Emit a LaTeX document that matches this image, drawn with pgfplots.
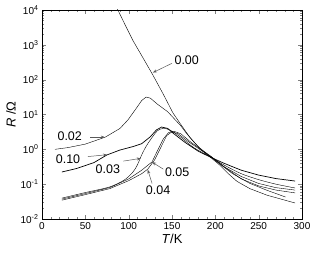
\documentclass[border=0pt]{standalone}
\usepackage{pgfplots}
\pgfplotsset{compat=1.18}
\usepackage{fontspec}
\setmainfont{Liberation Sans}
\usetikzlibrary{arrows.meta}
\begin{document}
\begin{tikzpicture}
\path[use as bounding box] (-42pt,-37pt) rectangle (273pt,219pt);
\begin{axis}[
  at={(0,0)}, anchor=south west,
  scale only axis, width=260pt, height=209pt,
  xmin=0, xmax=300, ymode=log, ymin=1e-2, ymax=1e4,
  xtick={0,50,100,150,200,250,300}, minor x tick num=4,
  ytick={1e-2,1e-1,1,1e1,1e2,1e3,1e4},
  yticklabels={10\textsuperscript{-2},10\textsuperscript{-1},10\textsuperscript{0},10\textsuperscript{1},10\textsuperscript{2},10\textsuperscript{3},10\textsuperscript{4}},
  tick align=inside, major tick length=4pt, minor tick length=2pt,
  /pgf/number format/assume math mode=true,
  tick label style={font=\fontsize{10}{12}\selectfont},
  xlabel={\textit{T}/K}, ylabel={\textit{R} /Ω},
  label style={font=\fontsize{13}{15}\selectfont},
  xlabel style={yshift=2pt},
  ylabel style={yshift=-2pt},
  axis line style={line width=0.8pt},
  cycle list={{black, solid, line width=0.7pt, smooth, mark=none}},
  clip=true,
]
% x = 0.00
\addplot coordinates {(86,12023) (95,4169) (105,1318) (119,331.1) (128,134.9) (140,38.02) (151,11.22) (160,5.248) (171,2.138) (183,1.0) (193,0.631) (205,0.3548) (215,0.1995) (225,0.1202) (240,0.0741) (260,0.0479) (292,0.0288)};
% x = 0.02
\addplot coordinates {(15,1.0) (30,1.122) (50,1.413) (73,2.239) (90,3.981) (99,6.918) (108,14.13) (115,25.12) (120,31.62) (125,29.51) (133,19.95) (145,12.02) (151,8.318) (160,4.786) (167,2.818) (180,1.202) (193,0.661) (205,0.380) (220,0.1995) (240,0.1047) (260,0.0661) (281,0.0427)};
% x = 0.10
\addplot coordinates {(23,0.2239) (40,0.2818) (60,0.4169) (75,0.6918) (90,0.955) (105,1.2) (115,1.45) (125,2.3) (132,3.6) (138,4.365) (145,3.981) (152,2.818) (165,1.585) (180,0.891) (194,0.6026) (210,0.3981) (230,0.2512) (250,0.1820) (270,0.1445) (292,0.1230)};
% x = 0.03
\addplot coordinates {(23,0.0398) (50,0.0575) (78,0.0832) (95,0.1318) (105,0.2239) (110,0.3548) (115,0.6918) (120,1.202) (125,1.862) (133,3.388) (140,3.981) (148,3.548) (160,2.239) (175,1.122) (193,0.631) (210,0.3548) (230,0.1995) (250,0.1349) (270,0.1) (292,0.0776)};
% x = 0.04
\addplot coordinates {(23,0.0347) (50,0.0501) (78,0.0741) (100,0.1259) (115,0.1995) (122,0.2692) (130,0.5012) (138,1.259) (144,2.512) (150,3.162) (157,2.818) (170,1.585) (185,0.891) (195,0.6026) (210,0.3162) (230,0.166) (250,0.1047) (270,0.0794) (292,0.0676)};
% x = 0.05
\addplot coordinates {(23,0.0372) (50,0.0537) (78,0.0794) (100,0.1413) (115,0.2512) (127,0.4365) (133,0.8913) (140,1.995) (146,3.02) (152,3.311) (160,2.818) (172,1.585) (185,0.9333) (195,0.631) (210,0.3162) (230,0.1413) (250,0.0891) (270,0.0676) (292,0.0562)};
% labels
\begin{scope}[every node/.style={font=\fontsize{12.5}{14}\selectfont, inner sep=0pt}]
\node at (axis cs:167,363) {0.00};
\node at (axis cs:32,2.4) {0.02};
\node at (axis cs:30,0.52) {0.10};
\node at (axis cs:76,0.27) {0.03};
\node at (axis cs:156,0.22) {0.05};
\node at (axis cs:134,0.068) {0.04};
\end{scope}
\begin{scope}[gray!70!black, line width=0.5pt, -{Stealth[length=4pt,width=3pt]}]
\draw (axis cs:150,295) -- (axis cs:128,160);
\draw (axis cs:55.5,2.24) -- (axis cs:72.5,2.24);
\draw (axis cs:53,0.62) -- (axis cs:75,0.70);
\draw (axis cs:94,0.46) -- (axis cs:114,0.55);
\draw (axis cs:140,0.27) -- (axis cs:127,0.43);
\draw (axis cs:127,0.105) -- (axis cs:122,0.26);
\end{scope}
\end{axis}
\end{tikzpicture}
\end{document}
